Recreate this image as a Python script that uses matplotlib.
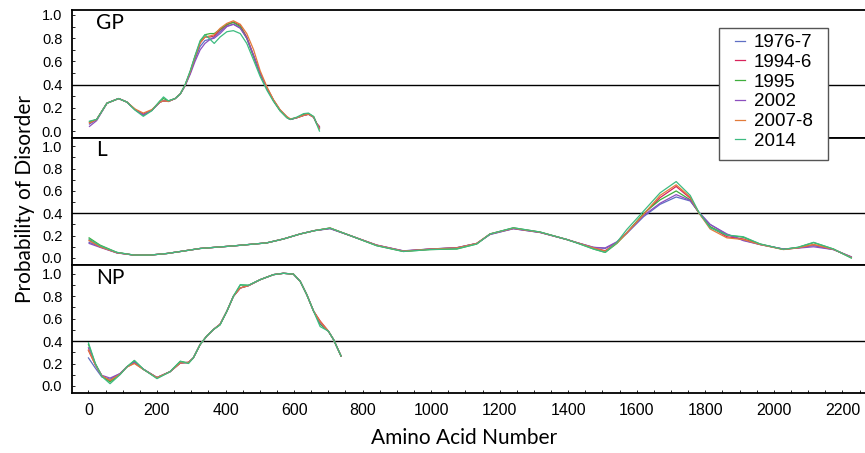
import numpy as np
import matplotlib.pyplot as plt
from matplotlib.ticker import MultipleLocator
from matplotlib.patches import Rectangle

##########################################################
############ data ########################################
##########################################################
years  = ['1976-7', '1994-6', '1995', '2002', '2007-8', '2014']
colors = ['#5f6fc4', '#d8245c', '#3fae3c', '#8c4fbe', '#e27b3a', '#3dbb80']
panels = ['GP', 'L', 'NP']

# GP
gp_pos = [3, 24, 54, 88, 112, 136, 160, 185, 209, 219, 233, 253, 268, 282, 297, 311, 326, 340, 355,
          367, 384, 404, 423, 443, 462, 482, 501, 521, 540, 559, 579, 589, 608, 628, 642, 657, 666, 674]
gp_1976 = [0.06, 0.10, 0.24, 0.28, 0.25, 0.185, 0.14, 0.18, 0.25, 0.26, 0.255, 0.28, 0.32, 0.39, 0.50, 0.62, 0.73, 0.78, 0.79,
           0.81, 0.856, 0.905, 0.92, 0.89, 0.80, 0.645, 0.495, 0.37, 0.265, 0.18, 0.12, 0.10, 0.115, 0.135, 0.145, 0.12, 0.065, 0.03]
gp_1994 = [0.07, 0.10, 0.24, 0.28, 0.25, 0.185, 0.145, 0.18, 0.25, 0.26, 0.255, 0.28, 0.32, 0.395, 0.51, 0.64, 0.76, 0.81, 0.81,
           0.82, 0.87, 0.915, 0.94, 0.91, 0.81, 0.65, 0.50, 0.37, 0.265, 0.18, 0.12, 0.10, 0.115, 0.135, 0.145, 0.12, 0.065, 0.04]
gp_1995 = [0.08, 0.10, 0.24, 0.28, 0.25, 0.185, 0.135, 0.18, 0.26, 0.28, 0.26, 0.28, 0.32, 0.395, 0.51, 0.64, 0.77, 0.83, 0.84,
           0.84, 0.876, 0.92, 0.935, 0.90, 0.80, 0.64, 0.49, 0.365, 0.26, 0.175, 0.115, 0.10, 0.115, 0.145, 0.15, 0.125, 0.065, 0.02]
gp_2002 = [0.04, 0.09, 0.24, 0.28, 0.25, 0.185, 0.14, 0.18, 0.25, 0.26, 0.255, 0.28, 0.32, 0.39, 0.49, 0.60, 0.70, 0.755, 0.79,
           0.80, 0.84, 0.90, 0.92, 0.885, 0.80, 0.65, 0.50, 0.37, 0.265, 0.18, 0.12, 0.10, 0.115, 0.135, 0.145, 0.12, 0.065, 0.03]
gp_2007 = [0.07, 0.10, 0.24, 0.28, 0.25, 0.19, 0.155, 0.185, 0.25, 0.26, 0.255, 0.28, 0.32, 0.395, 0.51, 0.64, 0.76, 0.81, 0.82,
           0.83, 0.885, 0.928, 0.95, 0.92, 0.84, 0.70, 0.52, 0.38, 0.27, 0.185, 0.125, 0.105, 0.115, 0.135, 0.145, 0.12, 0.065, 0.02]
gp_2014 = [0.085, 0.10, 0.24, 0.28, 0.25, 0.18, 0.127, 0.175, 0.26, 0.294, 0.26, 0.28, 0.32, 0.40, 0.52, 0.65, 0.78, 0.83, 0.79,
           0.755, 0.81, 0.856, 0.865, 0.84, 0.755, 0.61, 0.47, 0.35, 0.255, 0.175, 0.115, 0.10, 0.12, 0.15, 0.155, 0.125, 0.06, 0.0]

# L
l_pos = [2, 34, 83, 132, 180, 229, 277, 326, 423, 520, 569, 618, 660, 705, 764, 841, 919, 997, 1075, 1133, 1172, 1240,
         1318, 1396, 1425, 1474, 1508, 1542, 1571, 1620, 1668, 1715, 1756, 1781, 1814, 1863, 1911, 1960, 2028, 2070, 2116, 2174, 2226]
l_1976 = [0.14, 0.10, 0.047, 0.026, 0.026, 0.04, 0.062, 0.085, 0.108, 0.135, 0.17, 0.215, 0.245, 0.262, 0.20, 0.114, 0.063, 0.08, 0.092, 0.13, 0.21, 0.262,
          0.228, 0.165, 0.137, 0.095, 0.085, 0.14, 0.22, 0.37, 0.48, 0.546, 0.51, 0.41, 0.30, 0.21, 0.16, 0.12, 0.08, 0.09, 0.11, 0.075, 0.01]
l_1994 = [0.16, 0.10, 0.047, 0.026, 0.026, 0.04, 0.062, 0.085, 0.108, 0.135, 0.17, 0.215, 0.245, 0.266, 0.20, 0.114, 0.061, 0.079, 0.09, 0.13, 0.215, 0.266,
          0.23, 0.165, 0.137, 0.09, 0.065, 0.137, 0.226, 0.39, 0.54, 0.64, 0.535, 0.405, 0.28, 0.19, 0.17, 0.122, 0.077, 0.09, 0.12, 0.077, 0.005]
l_1995 = [0.18, 0.115, 0.05, 0.026, 0.026, 0.04, 0.062, 0.085, 0.108, 0.135, 0.17, 0.215, 0.245, 0.268, 0.20, 0.11, 0.058, 0.075, 0.08, 0.125, 0.215, 0.27,
          0.232, 0.165, 0.135, 0.08, 0.05, 0.13, 0.225, 0.40, 0.52, 0.60, 0.52, 0.405, 0.28, 0.205, 0.185, 0.125, 0.077, 0.095, 0.137, 0.08, 0.0]
l_2002 = [0.13, 0.095, 0.045, 0.026, 0.026, 0.04, 0.062, 0.085, 0.108, 0.135, 0.17, 0.215, 0.245, 0.264, 0.20, 0.116, 0.064, 0.08, 0.092, 0.13, 0.212, 0.262,
          0.228, 0.165, 0.138, 0.095, 0.09, 0.145, 0.225, 0.38, 0.49, 0.567, 0.515, 0.41, 0.30, 0.215, 0.155, 0.12, 0.08, 0.088, 0.10, 0.075, 0.01]
l_2007 = [0.155, 0.10, 0.047, 0.026, 0.026, 0.04, 0.062, 0.085, 0.108, 0.135, 0.17, 0.215, 0.245, 0.268, 0.20, 0.114, 0.061, 0.079, 0.09, 0.13, 0.215, 0.266,
          0.23, 0.165, 0.137, 0.09, 0.06, 0.135, 0.225, 0.39, 0.56, 0.655, 0.545, 0.405, 0.26, 0.18, 0.165, 0.12, 0.075, 0.09, 0.12, 0.077, 0.005]
l_2014 = [0.17, 0.11, 0.05, 0.026, 0.026, 0.04, 0.062, 0.085, 0.108, 0.135, 0.17, 0.215, 0.245, 0.268, 0.20, 0.11, 0.058, 0.075, 0.082, 0.125, 0.215, 0.27,
          0.232, 0.165, 0.135, 0.08, 0.05, 0.14, 0.255, 0.42, 0.583, 0.684, 0.56, 0.41, 0.27, 0.205, 0.19, 0.125, 0.077, 0.095, 0.14, 0.08, 0.0]

# NP
np_pos = [0, 20, 39, 63, 92, 112, 134, 160, 200, 238, 268, 292, 306, 326, 345, 365, 384, 404, 423, 443, 467, 501,
          540, 569, 598, 618, 637, 657, 676, 700, 715, 737]
np_1976 = [0.25, 0.16, 0.08, 0.06, 0.11, 0.17, 0.215, 0.15, 0.075, 0.127, 0.205, 0.21, 0.25, 0.37, 0.444, 0.504, 0.55, 0.667, 0.80, 0.874, 0.895, 0.948,
           0.993, 1.005, 0.998, 0.933, 0.815, 0.667, 0.57, 0.489, 0.415, 0.267]
np_1994 = [0.317, 0.19, 0.09, 0.045, 0.104, 0.169, 0.205, 0.148, 0.074, 0.127, 0.205, 0.21, 0.25, 0.37, 0.444, 0.504, 0.55, 0.667, 0.80, 0.874, 0.895, 0.948,
           0.993, 1.005, 0.998, 0.933, 0.815, 0.667, 0.58, 0.489, 0.415, 0.267]
np_1995 = [0.37, 0.20, 0.09, 0.035, 0.104, 0.17, 0.225, 0.15, 0.07, 0.127, 0.22, 0.205, 0.25, 0.37, 0.444, 0.504, 0.545, 0.667, 0.80, 0.90, 0.898, 0.948,
           0.993, 1.005, 0.998, 0.933, 0.815, 0.667, 0.55, 0.489, 0.415, 0.267]
np_2002 = [0.34, 0.19, 0.095, 0.07, 0.11, 0.17, 0.21, 0.15, 0.075, 0.127, 0.205, 0.21, 0.25, 0.37, 0.444, 0.504, 0.55, 0.667, 0.80, 0.874, 0.895, 0.948,
           0.993, 1.005, 0.998, 0.933, 0.815, 0.667, 0.565, 0.489, 0.415, 0.267]
np_2007 = [0.32, 0.19, 0.09, 0.05, 0.104, 0.169, 0.20, 0.148, 0.074, 0.127, 0.205, 0.21, 0.25, 0.37, 0.444, 0.504, 0.55, 0.667, 0.80, 0.874, 0.895, 0.948,
           0.993, 1.005, 0.998, 0.933, 0.815, 0.667, 0.575, 0.489, 0.415, 0.267]
np_2014 = [0.385, 0.20, 0.085, 0.02, 0.10, 0.17, 0.228, 0.15, 0.065, 0.127, 0.22, 0.20, 0.25, 0.37, 0.444, 0.504, 0.545, 0.667, 0.80, 0.904, 0.898, 0.948,
           0.993, 1.005, 0.998, 0.933, 0.815, 0.667, 0.53, 0.489, 0.415, 0.267]

positions = [gp_pos, l_pos, np_pos]
series = [[gp_1976, gp_1994, gp_1995, gp_2002, gp_2007, gp_2014],
          [l_1976, l_1994, l_1995, l_2002, l_2007, l_2014],
          [np_1976, np_1994, np_1995, np_2002, np_2007, np_2014]]
ylims = [(-0.057, 1.043), (-0.066, 1.077), (-0.063, 1.076)]

##########################################################
############ figure ######################################
##########################################################
tick_font  = 'Liberation Sans'
label_font = ['Lato', 'DejaVu Sans']
W, H = 865, 453

fig = plt.figure(figsize=(W/100, H/100), dpi=100)
fig_bottom, fig_top = 1 - 393/H, 1 - 10/H
left = 72/W
h = (fig_top - fig_bottom)/3

axes = []
for i in range(3):
    ax = fig.add_axes([left, fig_top - (i+1)*h, 1 - left, h])
    axes.append(ax)
    for k in range(6):
        ax.plot(positions[i], series[i][k], color=colors[k], lw=0.9, label=years[k])
    ax.axhline(0.4, color='black', lw=1.0, zorder=0)
    ax.set_xlim(-48, 2266)
    ax.set_ylim(*ylims[i])
    ax.spines['right'].set_visible(False)
    for s in ['top', 'bottom', 'left']:
        ax.spines[s].set_linewidth(1.3)
    ax.yaxis.set_major_locator(MultipleLocator(0.2))
    ax.yaxis.set_minor_locator(MultipleLocator(0.1))
    ax.tick_params(axis='y', which='both', direction='in', length=2.5, width=0.6, pad=7)
    ax.tick_params(axis='y', labelsize=10.5)
    for lbl in ax.get_yticklabels():
        lbl.set_fontfamily(tick_font)
    ax.xaxis.set_major_locator(MultipleLocator(200))
    ax.xaxis.set_minor_locator(MultipleLocator(50))
    ax.tick_params(axis='x', which='both', direction='in', length=2.5, width=0.6, pad=7, labelsize=11.5)
    if i < 2:
        ax.tick_params(axis='x', which='both', bottom=False, labelbottom=False)
    else:
        for lbl in ax.get_xticklabels():
            lbl.set_fontfamily(tick_font)
    ax.text(0.03, 0.90, panels[i], transform=ax.transAxes, fontsize=15,
            family=label_font, va='center', ha='left')

fig.text(25/W, 1 - 199/H, 'Probability of Disorder', rotation=90,
         ha='center', va='center', fontsize=15, family=label_font)
fig.text(464/W, 1 - 438/H, 'Amino Acid Number',
         ha='center', va='center', fontsize=15, family=label_font)

# legend box drawn by hand so its padding can match
box = Rectangle((719/W, 1 - 160/H), 109/W, 132/H, transform=fig.transFigure,
                facecolor='white', edgecolor='#555555', lw=1.0, zorder=9)
fig.patches.append(box)
handles, labels = axes[0].get_legend_handles_labels()
leg = fig.legend(handles, labels, loc='upper left', bbox_to_anchor=(735/W, 1 - 34/H),
                 frameon=False, handlelength=0.55, handletextpad=0.45,
                 labelspacing=0.14, borderpad=0, borderaxespad=0,
                 prop={'family': tick_font, 'size': 13.5})
leg.set_zorder(10)

fig.savefig('out.png', dpi=100)
